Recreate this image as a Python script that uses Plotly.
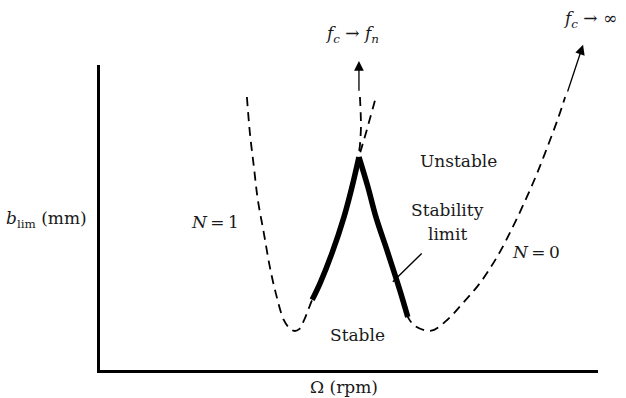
import plotly.graph_objects as go

# Stability lobe sketch: b_lim versus spindle speed (arbitrary units, 0-100)
# Lobe N = 1 (left lobe), traced from its upper-left end to its upper-right end
n1_omega = [29.5, 30.1, 30.9, 31.7, 32.9, 34.1, 35.3, 36.9, 38.0, 39.0, 40.0, 41.0,
            42.6, 44.2, 46.6, 49.0, 50.6, 52.0, 53.4, 55.4]
n1_b = [89.5, 77.7, 66.6, 55.7, 44.9, 33.8, 25.2, 16.4, 13.8, 12.8, 13.4, 16.4,
        23.0, 28.5, 38.4, 50.2, 60.0, 69.8, 77.7, 89.5]

# Lobe N = 0 (right lobe), traced from its upper-left end to its upper-right end
n0_omega = [52.2, 52.4, 52.2, 52.0, 53.8, 55.4, 57.8, 60.2, 61.8, 63.4, 66.5,
            69.7, 72.9, 76.3, 79.7, 82.9, 85.7, 87.8, 90.0, 92.0, 93.4]
n0_b = [89.5, 79.7, 73.8, 69.8, 60.0, 50.2, 38.4, 26.2, 17.4, 14.3, 12.9,
        16.4, 22.0, 28.5, 37.0, 46.9, 56.7, 64.6, 73.8, 82.6, 89.5]

# Index ranges of each lobe that form the stability limit (lower envelope)
n1_limit = (12, 17)   # N = 1: from rising flank up to the intersection
n0_limit = (3, 8)     # N = 0: from the intersection down its falling flank

FONT = "DejaVu Serif"
FS = 17
INK = "#1a1a1a"

fig = go.Figure()

dash_style = dict(color="black", width=1.8, dash="9px,6px", shape="spline", smoothing=1.0)
fig.add_trace(go.Scatter(x=n1_omega, y=n1_b, mode="lines", line=dash_style, hoverinfo="skip"))
fig.add_trace(go.Scatter(x=n0_omega, y=n0_b, mode="lines", line=dash_style, hoverinfo="skip"))

# Thick stability limit: the two flanks meeting at the lobe intersection
fig.add_trace(go.Scatter(x=n1_omega[n1_limit[0]:n1_limit[1] + 1],
                         y=n1_b[n1_limit[0]:n1_limit[1] + 1], mode="lines",
                         line=dict(color="black", width=5.5, shape="spline", smoothing=1.0),
                         hoverinfo="skip"))
fig.add_trace(go.Scatter(x=n0_omega[n0_limit[0]:n0_limit[1] + 1],
                         y=n0_b[n0_limit[0]:n0_limit[1] + 1], mode="lines",
                         line=dict(color="black", width=5.5, shape="spline", smoothing=1.0),
                         hoverinfo="skip"))

# Leader line from the "Stability limit" label to the curve
fig.add_annotation(x=58.8, y=28.9, ax=64.9, ay=38.7, xref="x", yref="y", axref="x", ayref="y",
                   text="", showarrow=True, arrowhead=0, arrowwidth=1.4, arrowcolor="black")

# Arrows showing where the lobes head: f_c -> f_n and f_c -> infinity
fig.add_annotation(x=52.0, y=101.3, ax=52.0, ay=91.1, xref="x", yref="y", axref="x", ayref="y",
                   text="", showarrow=True, arrowhead=2, arrowsize=1.5, arrowwidth=1.3,
                   arrowcolor="black")
fig.add_annotation(x=97.0, y=106.6, ax=93.8, ay=90.8, xref="x", yref="y", axref="x", ayref="y",
                   text="", showarrow=True, arrowhead=2, arrowsize=1.5, arrowwidth=1.3,
                   arrowcolor="black")


def label(text, x, y, xanchor="center", xref="x", yref="y"):
    fig.add_annotation(x=x, y=y, xref=xref, yref=yref, text=text, showarrow=False,
                       xanchor=xanchor, yanchor="middle",
                       font=dict(family=FONT, size=FS, color=INK))


# Labels above the plotting area sit in paper coordinates
label("<i>f</i><sub><i>c</i></sub> \u2192 <i>f</i><sub><i>n</i></sub>", 0.506, 1.1,
      xref="paper", yref="paper")
label("<i>f</i><sub><i>c</i></sub> \u2192 \u221e", 0.926, 1.15, xanchor="left",
      xref="paper", yref="paper")
label("<i>N</i>\u2009=\u20091", 23.1, 48.5)
label("<i>N</i>\u2009=\u20090", 87.5, 38.7)
label("Unstable", 71.9, 68.5)
label("Stability", 69.7, 52.5)
label("limit", 69.7, 44.6)
label("Stable", 51.8, 11.5)

# Axis titles
label("<i>b</i><sub>lim</sub> (mm)", -0.022, 0.495, xanchor="right", xref="paper", yref="paper")
label("\u03a9 (rpm)", 0.49, -0.055, xref="paper", yref="paper")

axis_style = dict(showline=True, linecolor="black", linewidth=2.5, showgrid=False,
                  zeroline=False, showticklabels=False, ticks="", mirror=False)
fig.update_xaxes(range=[0, 100], **axis_style)
fig.update_yaxes(range=[0, 100], **axis_style)

fig.update_layout(width=626, height=398, margin=dict(l=100, r=28, t=65, b=28),
                  plot_bgcolor="white", paper_bgcolor="white", showlegend=False,
                  font=dict(family=FONT))

fig.write_html("out.html")
